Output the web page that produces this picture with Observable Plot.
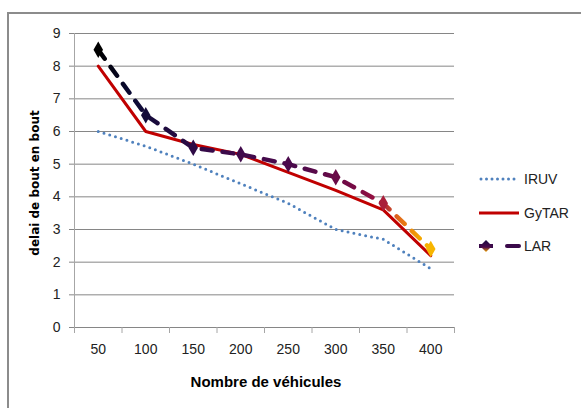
<!DOCTYPE html>
<html>
<head>
<meta charset="utf-8">
<script src="https://cdn.jsdelivr.net/npm/d3@7"></script>
<script src="https://cdn.jsdelivr.net/npm/@observablehq/plot@0.6"></script>
<style>
  html, body { margin: 0; padding: 0; background: #fff; }
  #wrap { position: relative; width: 581px; height: 408px; overflow: hidden; }
  #border { position: absolute; left: 7px; top: 12px; width: 600px; height: 420px;
            border-left: 2px solid #8c8c8c; border-top: 2px solid #8c8c8c; }
  .ttl { position: absolute; white-space: nowrap; color: #000; }
  #ytitle { font: bold 12px "DejaVu Sans", sans-serif; left: 35px; top: 183px;
            transform: translate(-50%, -50%) rotate(-90deg); }
  #xtitle { font: bold 15px "Liberation Sans Narrow", "Liberation Sans", sans-serif; left: 266px; top: 381px;
            transform: translate(-50%, -50%); }
  #legend { position: absolute; left: 479px; top: 0; font: 14px "Liberation Sans Narrow", "Liberation Sans", sans-serif; color: #222; }
  .li { position: absolute; left: 0; white-space: nowrap; display: flex; align-items: center; }
  .li svg { display: block; }
  .li span { margin-left: 5px; }
</style>
</head>
<body>
<div id="wrap">
  <div id="border"></div>
  <div id="chart"></div>
  <div class="ttl" id="ytitle">delai de bout en bout</div>
  <div class="ttl" id="xtitle">Nombre de véhicules</div>
  <div id="legend"></div>
</div>
<script>
// ---- data ----
const vehicles = [50, 100, 150, 200, 250, 300, 350, 400];
const iruv  = [6.0, 5.55, 5.0, 4.4, 3.8, 3.0, 2.7, 1.8];
const gytar = [8.0, 6.0, 5.6, 5.3, 4.75, 4.2, 3.6, 2.2];
const lar   = [8.5, 6.5, 5.5, 5.3, 5.0, 4.6, 3.8, 2.4];
const yTicks = [0, 1, 2, 3, 4, 5, 6, 7, 8, 9];
const categoryEdges = [25, 75, 125, 175, 225, 275, 325, 375, 425];
const seriesNames = ["IRUV", "GyTAR", "LAR"];

// LAR gradient colour stops (offset along the series, colour)
const larStops = [[0, "#000000"], [0.1, "#0b0b35"], [0.35, "#3a0a4a"], [0.6, "#4c0a4c"], [0.78, "#7a0a44"],
  [0.85, "#a0133f"], [0.9, "#e0651c"], [0.97, "#f5a800"], [1, "#f7b500"]];
const larColor = (t) => {
  for (let i = 1; i < larStops.length; i++) {
    if (t <= larStops[i][0]) {
      const [o0, c0] = larStops[i - 1], [o1, c1] = larStops[i];
      return d3.interpolateRgb(c0, c1)((t - o0) / (o1 - o0 || 1));
    }
  }
  return larStops[larStops.length - 1][1];
};
const tOf = (x) => (x - vehicles[0]) / (vehicles[vehicles.length - 1] - vehicles[0]);

const rows = (vals) => vehicles.map((v, i) => ({x: v, y: vals[i]}));
const dIRUV = rows(iruv), dGy = rows(gytar), dLAR = rows(lar);

const chart = Plot.plot({
  width: 581,
  height: 408,
  marginLeft: 74,
  marginRight: 127,
  marginTop: 33,
  marginBottom: 81,
  style: {background: "transparent", fontFamily: "'Liberation Sans Narrow', 'Liberation Sans', sans-serif"},
  x: {type: "linear", domain: [25, 425]},
  y: {domain: [0, 9]},
  color: {type: "identity"},
  marks: [
    Plot.gridY(yTicks, {stroke: "#868686", strokeOpacity: 1, strokeWidth: 1}),
    Plot.ruleX([25], {stroke: "#a6a6a6", strokeWidth: 1}),
    Plot.axisY(yTicks, {tickSize: 5, tickPadding: 9, fontSize: 14, stroke: "#868686", color: "#222", label: null}),
    Plot.axisX(categoryEdges, {tickSize: 6, stroke: "#a6a6a6", tickFormat: () => "", label: null}),
    Plot.axisX(vehicles, {tickSize: 0, tickPadding: 17, fontSize: 14, color: "#222", label: null}),
    Plot.line(dIRUV, {x: "x", y: "y", stroke: "#4f81bd", strokeWidth: 3, strokeDasharray: "0,6", strokeLinecap: "round"}),
    Plot.line(dGy, {x: "x", y: "y", stroke: "#c00000", strokeWidth: 3}),
    Plot.line(dLAR, {x: "x", y: "y", stroke: "url(#larGrad)", strokeWidth: 4.5, strokeDasharray: "11,10", strokeLinecap: "round"}),
    Plot.dot(dLAR, {x: "x", y: "y", symbol: "diamond", r: 5, fill: (d) => larColor(tOf(d.x)), stroke: "none"})
  ]
});

// gradient for LAR line
const xs = chart.scale("x");
const svgNS = "http://www.w3.org/2000/svg";
const defs = document.createElementNS(svgNS, "defs");
const grad = document.createElementNS(svgNS, "linearGradient");
grad.setAttribute("id", "larGrad");
grad.setAttribute("gradientUnits", "userSpaceOnUse");
grad.setAttribute("x1", xs.apply(vehicles[0]));
grad.setAttribute("x2", xs.apply(vehicles[vehicles.length - 1]));
grad.setAttribute("y1", 0);
grad.setAttribute("y2", 0);
larStops.forEach(([o, c]) => {
  const s = document.createElementNS(svgNS, "stop");
  s.setAttribute("offset", o);
  s.setAttribute("stop-color", c);
  grad.appendChild(s);
});
defs.appendChild(grad);
chart.insertBefore(defs, chart.firstChild);
document.getElementById("chart").appendChild(chart);

// legend
const legend = document.getElementById("legend");
const legendTops = [179, 213, 246];
const swatches = [
  '<line x1="2" y1="6" x2="38" y2="6" stroke="#4f81bd" stroke-width="3" stroke-dasharray="0,5.5" stroke-linecap="round"/>',
  '<line x1="0" y1="6" x2="40" y2="6" stroke="#c00000" stroke-width="3"/>',
  '<defs><linearGradient id="lg2" x1="0" y1="0" x2="0" y2="1"><stop offset="0" stop-color="#1a0a40"/><stop offset="0.6" stop-color="#4c0a4c"/><stop offset="1" stop-color="#f5a800"/></linearGradient></defs>' +
  '<line x1="0" y1="6" x2="14" y2="6" stroke="#3a0a4a" stroke-width="4"/>' +
  '<path d="M7,0 L13,6 L7,12 L1,6 Z" fill="url(#lg2)"/>' +
  '<line x1="28" y1="6" x2="40" y2="6" stroke="#3a0a4a" stroke-width="4" stroke-linecap="round"/>'
];
seriesNames.forEach((name, i) => {
  const d = document.createElement("div");
  d.className = "li";
  d.style.top = (legendTops[i] - 8) + "px";
  d.innerHTML = `<svg width="40" height="12" overflow="visible">${swatches[i]}</svg><span>${name}</span>`;
  legend.appendChild(d);
});
</script>
</body>
</html>
